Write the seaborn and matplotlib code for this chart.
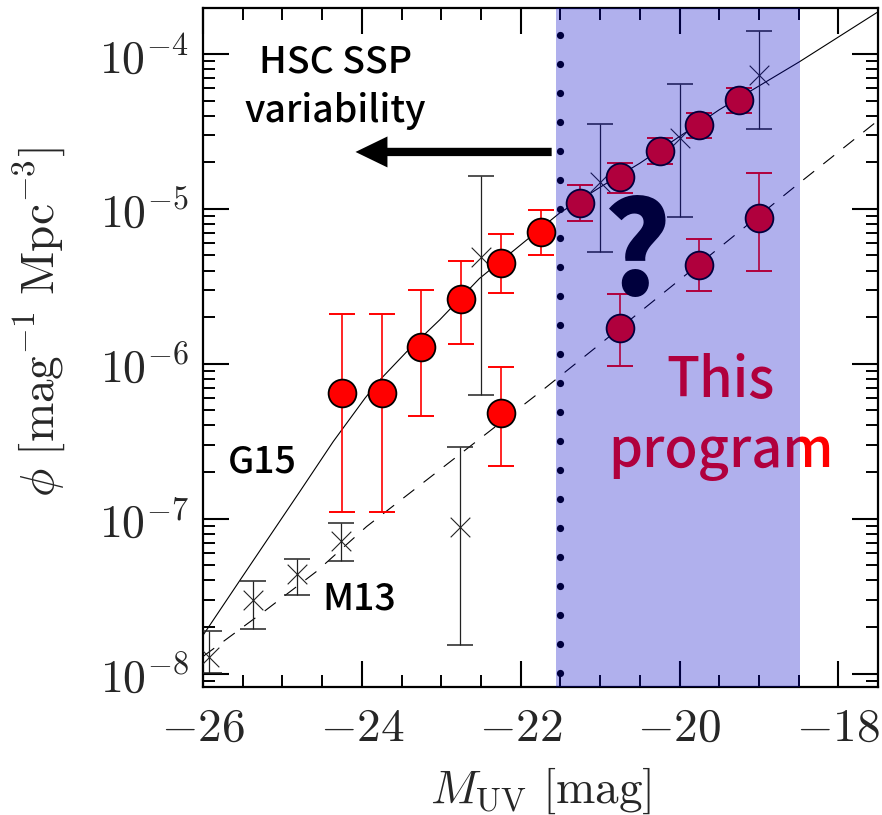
import numpy as np
import matplotlib
matplotlib.use("Agg")
import matplotlib.pyplot as plt
from matplotlib.ticker import FixedLocator, MultipleLocator, LogLocator, NullFormatter
import seaborn as sns

# --- UV luminosity function data ---------------------------------------
# Red circles: upper sequence
upper_mag = [-24.25, -23.75, -23.25, -22.75, -22.25, -21.75, -21.25, -20.75, -20.25, -19.75, -19.25]
upper_phi = [6.5e-7, 6.5e-7, 1.29e-6, 2.6e-6, 4.5e-6, 7.1e-6, 1.09e-5, 1.6e-5, 2.38e-5, 3.48e-5, 5.05e-5]
upper_hi = [2.1e-6, 2.1e-6, 3.0e-6, 4.6e-6, 6.9e-6, 9.8e-6, 1.43e-5, 1.97e-5, 2.86e-5, 4.14e-5, 6.0e-5]
upper_lo = [1.1e-7, 1.1e-7, 4.6e-7, 1.35e-6, 2.86e-6, 5.0e-6, 8.4e-6, 1.27e-5, 1.95e-5, 2.88e-5, 4.14e-5]

# Red circles: lower sequence
lower_mag = [-22.25, -20.75, -19.75, -19.0]
lower_phi = [4.8e-7, 1.7e-6, 4.36e-6, 8.7e-6]
lower_hi = [9.5e-7, 2.83e-6, 6.37e-6, 1.7e-5]
lower_lo = [2.2e-7, 9.7e-7, 2.93e-6, 3.95e-6]

# Crosses: M13 quasar points
m13_mag = [-25.93, -25.37, -24.82, -24.26]
m13_phi = [1.28e-8, 3.0e-8, 4.4e-8, 7.15e-8]
m13_hi = [1.88e-8, 3.98e-8, 5.5e-8, 9.4e-8]
m13_lo = [1.01e-8, 1.94e-8, 3.24e-8, 5.3e-8]

# Crosses: G15 AGN points
g15_mag = [-22.76, -22.5, -21.0, -20.0, -19.0]
g15_phi = [8.9e-8, 4.9e-6, 1.5e-5, 2.86e-5, 7.32e-5]
g15_hi = [2.9e-7, 1.63e-5, 3.53e-5, 6.37e-5, 1.41e-4]
g15_lo = [1.54e-8, 6.3e-7, 5.26e-6, 8.9e-6, 3.28e-5]

# Model curves
g15_curve_mag = [-26.0, -25.91, -25.53, -25.2, -24.78, -24.36, -23.96, -23.77, -23.4, -23.02,
                 -22.52, -22.01, -21.51, -21.0, -20.5, -19.5, -18.49, -17.5]
g15_curve_phi = [1.77e-8, 2.07e-8, 4.04e-8, 7.2e-8, 1.5e-7, 3.15e-7, 6.0e-7, 7.9e-7, 1.25e-6, 1.92e-6,
                 3.55e-6, 5.8e-6, 9.4e-6, 1.38e-5, 1.97e-5, 4.36e-5, 8.9e-5, 1.87e-4]
m13_curve_mag = [-26.0, -25.94, -25.2, -24.57, -23.94, -21.72, -20.75, -18.49, -17.5]
m13_curve_phi = [1.29e-8, 1.36e-8, 2.59e-8, 4.57e-8, 8.9e-8, 6.79e-7, 1.70e-6, 1.47e-5, 3.72e-5]

xtick_vals = [-26, -24, -22, -20, -18]
xtick_labels = [r"$-26$", r"$-24$", r"$-22$", r"$-20$", r"$-18$"]
ytick_vals = [1e-8, 1e-7, 1e-6, 1e-5, 1e-4]
ytick_labels = [r"$10^{-8}$", r"$10^{-7}$", r"$10^{-6}$", r"$10^{-5}$", r"$10^{-4}$"]

survey_limit = -21.5
program_range = (-21.56, -18.48)

# --- style --------------------------------------------------------------
sns.set_theme(style="ticks")
plt.rcParams["font.family"] = ["Noto Sans CJK JP", "DejaVu Sans"]
plt.rcParams["mathtext.fontset"] = "cm"

fig = plt.figure(figsize=(8.82, 8.15), dpi=100)
ax = fig.add_axes([0.2302, 0.1571, 0.7653, 0.8331])
ax.set_yscale("log")

# model curves (beneath markers)
sns.lineplot(x=g15_curve_mag, y=g15_curve_phi, ax=ax, color="black", lw=0.8,
             sort=False, zorder=2)
sns.lineplot(x=m13_curve_mag, y=m13_curve_phi, ax=ax, color="black", lw=0.8,
             sort=False, zorder=2, dashes=False)
ax.lines[-1].set_dashes((12.5, 10.5))

# error bars
ekw = dict(fmt="none", capsize=9.4, zorder=3)
for mag, phi, lo, hi in [(upper_mag, upper_phi, upper_lo, upper_hi),
                         (lower_mag, lower_phi, lower_lo, lower_hi)]:
    phi = np.array(phi)
    ax.errorbar(mag, phi, yerr=[phi - np.array(lo), np.array(hi) - phi],
                ecolor="#ff0000", elinewidth=1.2, capthick=1.4, **ekw)
for mag, phi, lo, hi in [(m13_mag, m13_phi, m13_lo, m13_hi),
                         (g15_mag, g15_phi, g15_lo, g15_hi)]:
    phi = np.array(phi)
    ax.errorbar(mag, phi, yerr=[phi - np.array(lo), np.array(hi) - phi],
                ecolor="#222222", elinewidth=0.9, capthick=1.1, **ekw)

# markers
sns.scatterplot(x=m13_mag + g15_mag, y=m13_phi + g15_phi, ax=ax, marker="x",
                s=200, color="#222222", linewidth=0.8, zorder=4)
sns.scatterplot(x=upper_mag + lower_mag, y=upper_phi + lower_phi, ax=ax, marker="o",
                s=400, color="#ff0000", edgecolor="black", linewidth=1.3, zorder=5)

# survey limit: a column of round dots spanning the axes height
dot_frac = np.arange(0.0206, 1.0, 0.0427)
ax.plot(np.full(dot_frac.size, survey_limit), dot_frac, transform=ax.get_xaxis_transform(),
        linestyle="none", marker="o", markersize=5.2, color="black", mew=0, zorder=6)
ax.annotate("", xy=(-24.08, 2.33e-5), xytext=(-21.61, 2.33e-5),
            arrowprops=dict(arrowstyle="simple,head_length=1.0,head_width=0.97,tail_width=0.26",
                            mutation_scale=23, fc="black", ec="none",
                            shrinkA=0, shrinkB=0), zorder=6)

# annotations
ax.text(-24.33, 7.54e-5, "HSC SSP", ha="center", va="baseline", fontsize=27,
        fontweight="medium", color="black")
ax.text(-24.33, 3.64e-5, "variability", ha="center", va="baseline", fontsize=27,
        fontweight="medium", color="black")
ax.text(-25.69, 1.98e-7, "G15", ha="left", va="baseline", fontsize=27,
        fontweight="medium", color="black")
ax.text(-24.50, 2.59e-8, "M13", ha="left", va="baseline", fontsize=27,
        fontweight="medium", color="black")
ax.text(-20.55, 2.79e-6, "?", ha="center", va="baseline", fontsize=92,
        fontweight="black", color="black", zorder=6)
ax.text(-19.48, 6.12e-7, "This", ha="center", va="baseline", fontsize=39,
        fontweight="medium", color="#ff0000")
ax.text(-19.48, 2.16e-7, "program", ha="center", va="baseline", fontsize=39,
        fontweight="medium", color="#ff0000")

# translucent band for the program's magnitude range, laid over everything
ax.axvspan(*program_range, color=(0.0, 0.0, 0.78), alpha=0.31, lw=0, zorder=20,
           clip_on=False)

# axes, ticks, labels
ax.set_xlim(-26.0, -17.5)
ax.set_ylim(8.2e-9, 1.98e-4)
ax.xaxis.set_major_locator(FixedLocator(xtick_vals))
ax.set_xticklabels(xtick_labels)
ax.xaxis.set_minor_locator(MultipleLocator(0.5))
ax.yaxis.set_major_locator(FixedLocator(ytick_vals))
ax.set_yticklabels(ytick_labels)
ax.yaxis.set_minor_locator(LogLocator(base=10, subs=np.arange(2, 10)))
ax.yaxis.set_minor_formatter(NullFormatter())

ax.tick_params(which="both", direction="in", top=True, right=True, color="black")
ax.tick_params(which="major", length=18.5, width=1.5, labelsize=33, pad=12)
ax.tick_params(which="minor", length=8.5, width=1.4)
ax.tick_params(axis="x", which="major", labelsize=34)
ax.tick_params(axis="y", which="major", pad=10)
for sp in ax.spines.values():
    sp.set_linewidth(1.6)
    sp.set_color("black")

ax.set_xlabel(r"$M_{\rm UV}\ [{\rm mag}]$", fontsize=34)
ax.set_ylabel(r"$\phi\ [{\rm mag}^{-1}\ {\rm Mpc}^{-3}]$", fontsize=34)
ax.xaxis.set_label_coords(0.5, -0.115)
ax.yaxis.set_label_coords(-0.2, 0.537)

fig.savefig("out.png", dpi=100)
